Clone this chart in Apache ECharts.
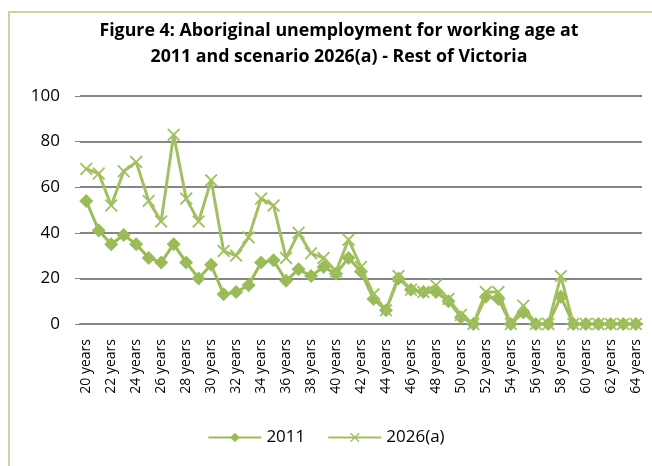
<!DOCTYPE html>
<html>
<head>
<meta charset="utf-8">
<script src="https://cdn.jsdelivr.net/npm/echarts@6/dist/echarts.min.js"></script>
<style>
  html, body { margin: 0; padding: 0; background: #fff; }
  #main { width: 652px; height: 466px; }
</style>
</head>
<body>
<div id="main"></div>
<script>
// age categories 20..64
var ages = ['20 years','21 years','22 years','23 years','24 years','25 years','26 years','27 years','28 years','29 years',
  '30 years','31 years','32 years','33 years','34 years','35 years','36 years','37 years','38 years','39 years',
  '40 years','41 years','42 years','43 years','44 years','45 years','46 years','47 years','48 years','49 years',
  '50 years','51 years','52 years','53 years','54 years','55 years','56 years','57 years','58 years','59 years',
  '60 years','61 years','62 years','63 years','64 years'];

var yr2011 = [54, 41, 35, 39, 35, 29, 27, 35, 27, 20,
  26, 13, 14, 17, 27, 28, 19, 24, 21, 25,
  22, 29, 23, 11, 6, 20, 15, 14, 14, 10,
  3, 0, 12, 11, 0, 5, 0, 0, 12, 0,
  0, 0, 0, 0, 0];

var yr2026 = [68, 66, 52, 67, 71, 54, 45, 83, 55, 45,
  63, 32, 30, 38, 55, 52, 29, 40, 31, 29,
  23, 37, 25, 13, 6, 21, 15, 14, 17, 11,
  4, 0, 14, 14, 0, 8, 0, 0, 21, 0,
  0, 0, 0, 0, 0];

var green = '#9bbb59';
var crossPath = 'path://M0,1L1,0L5,4L9,0L10,1L6,5L10,9L9,10L5,6L1,10L0,9L4,5Z';
var font = '"Open Sans", "Noto Sans", sans-serif';

var chart = echarts.init(document.getElementById('main'));

var option = {
  animation: false,
  textStyle: { fontFamily: font },
  title: {
    text: 'Figure 4: Aboriginal unemployment for working age at\n2011 and scenario 2026(a) - Rest of Victoria',
    left: 334,
    textAlign: 'center',
    top: 13,
    textStyle: { fontSize: 17.8, fontWeight: 'bold', color: '#000', lineHeight: 26, fontFamily: font }
  },
  graphic: [{
    type: 'rect',
    shape: { x: 9, y: 12, width: 660, height: 480 },
    style: { fill: 'none', stroke: '#c5d99f', lineWidth: 2 },
    silent: true
  }],
  legend: {
    bottom: 15,
    left: 'center',
    itemWidth: 53,
    itemHeight: 12,
    itemGap: 22,
    textStyle: { fontSize: 17, color: '#000', fontFamily: font },
    data: ['2011', '2026(a)']
  },
  grid: { left: 80, right: 10, top: 96, bottom: 142 },
  xAxis: {
    type: 'category',
    data: ages,
    boundaryGap: true,
    axisLine: { lineStyle: { color: '#868686', width: 2 } },
    axisTick: { show: false },
    axisLabel: { interval: 1, rotate: 90, fontSize: 14, color: '#000', margin: 15 }
  },
  yAxis: {
    type: 'value',
    min: 0,
    max: 100,
    interval: 20,
    axisLine: { show: false },
    axisTick: { show: true, length: 5, lineStyle: { color: '#868686', width: 1 } },
    axisLabel: { fontSize: 17, color: '#000', margin: 20 },
    splitLine: { lineStyle: { color: '#868686', width: 2 } }
  },
  series: [{
    name: '2011',
    type: 'line',
    data: yr2011,
    symbol: 'diamond',
    symbolSize: 14,
    showAllSymbol: true,
    itemStyle: { color: green },
    lineStyle: { color: green, width: 3 }
  }, {
    name: '2026(a)',
    type: 'line',
    data: yr2026,
    symbol: crossPath,
    symbolSize: 13,
    showAllSymbol: true,
    itemStyle: { color: '#a2c063' },
    lineStyle: { color: '#a2c063', width: 3 }
  }]
};

chart.setOption(option);
</script>
</body>
</html>
